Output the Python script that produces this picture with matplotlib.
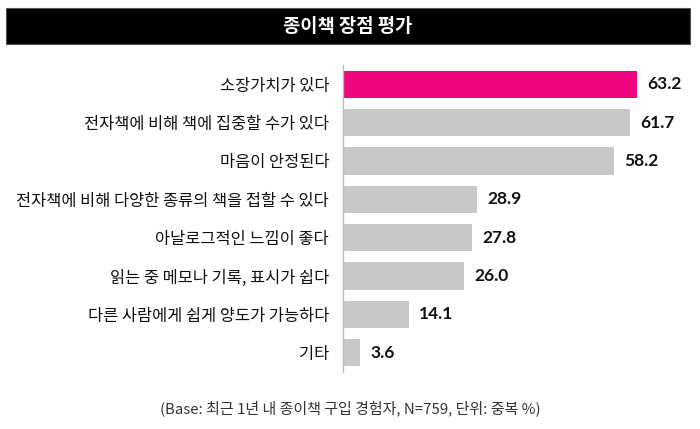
import matplotlib.pyplot as plt
from matplotlib.patches import Rectangle

plt.rcParams['font.family'] = ['Noto Sans CJK KR', 'DejaVu Sans']

# data
categories = ['소장가치가 있다', '전자책에 비해 책에 집중할 수가 있다', '마음이 안정된다',
              '전자책에 비해 다양한 종류의 책을 접할 수 있다', '아날로그적인 느낌이 좋다',
              '읽는 중 메모나 기록, 표시가 쉽다', '다른 사람에게 쉽게 양도가 가능하다', '기타']
values = [63.2, 61.7, 58.2, 28.9, 27.8, 26.0, 14.1, 3.6]
title = '종이책 장점 평가'
note = '(Base: 최근 1년 내 종이책 구입 경험자, N=759, 단위: 중복 %)'

W, H = 700, 429
fig = plt.figure(figsize=(7, 4.29), dpi=100)

# title bar
fig.patches.append(Rectangle((6 / W, 1 - 44 / H), 684 / W, 36 / H, transform=fig.transFigure,
                             facecolor='black', edgecolor='#555555', lw=0.8))
fig.text(348 / W, 1 - 26 / H, title, color='white', fontsize=13.5, fontweight='bold',
         ha='center', va='center')

ax = fig.add_axes([343 / W, 1 - 372 / H, 347 / W, 307 / H])
ypos = list(range(len(categories)))
colors = ['#F0047F'] + ['#C8C8C8'] * (len(values) - 1)
ax.barh(ypos, values, height=0.71, color=colors)
ax.set_ylim(len(categories) - 0.5, -0.5)
ax.set_xlim(0, 74.6)
ax.set_yticks(ypos)
ax.set_yticklabels(categories, fontsize=11.8, color='#111111')
ax.tick_params(axis='y', length=0, pad=10)
ax.set_xticks([])
for s in ['top', 'right', 'bottom']:
    ax.spines[s].set_visible(False)
ax.spines['left'].set_color('#BBBBBB')
ax.spines['left'].set_linewidth(1)

for y, v in zip(ypos, values):
    ax.annotate('%.1f' % v, (v, y), xytext=(7.5, 0), textcoords='offset points',
                va='center', ha='left', fontsize=12.5, fontweight='bold', color='#111111',
                family=['Lato', 'DejaVu Sans'])

fig.text(350 / W, 1 - 408 / H, note, fontsize=10.8, color='#333333', ha='center', va='center')

fig.savefig('out.png', dpi=100)
